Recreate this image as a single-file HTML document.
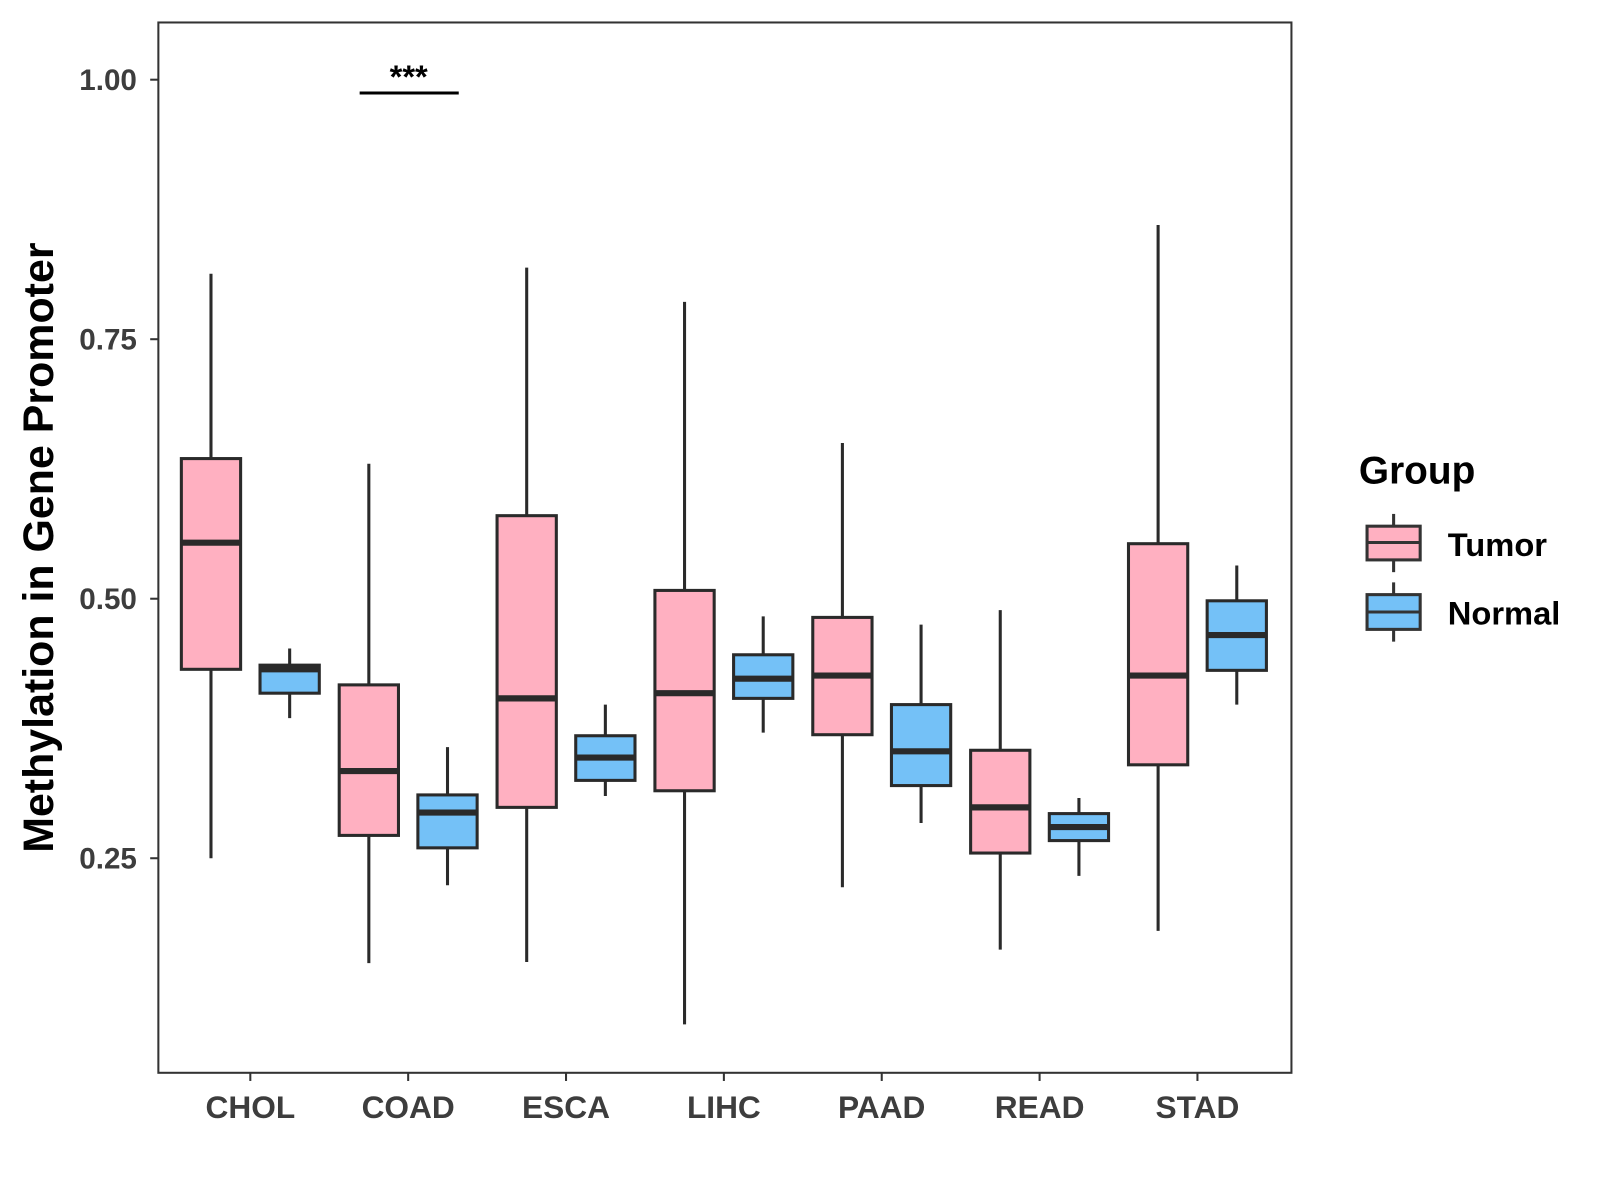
<!DOCTYPE html>
<html><head><meta charset="utf-8"><style>
body{margin:0;background:#fff;}
svg{display:block;font-family:"Liberation Sans",Arial,sans-serif;font-weight:bold;}
</style></head><body>
<svg id="chart" width="1600" height="1200" viewBox="0 0 1566 1174.5">
<rect x="0" y="0" width="1566" height="1175" fill="#fff"/>
<g id="plot"></g>
<rect x="155" y="22" width="1109" height="1028" fill="none" stroke="#333" stroke-width="2"/>
<text x="0" y="0" transform="translate(52,536) rotate(-90)" text-anchor="middle" font-size="42" fill="#000">Methylation in Gene Promoter</text>
<g>
<text x="1330" y="473" font-size="38" fill="#000">Group</text>
<g>
<line x1="1364" y1="503" x2="1364" y2="560" stroke="#333" stroke-width="3"/>
<rect x="1338" y="515" width="52" height="33" fill="#FFB0C1" stroke="#333" stroke-width="3"/>
<line x1="1338" y1="531" x2="1390" y2="531" stroke="#333" stroke-width="3"/>
<text x="1417" y="544" font-size="32" fill="#000">Tumor</text>
</g>
<g>
<line x1="1364" y1="570" x2="1364" y2="628" stroke="#333" stroke-width="3"/>
<rect x="1338" y="582" width="52" height="34" fill="#74C1F7" stroke="#333" stroke-width="3"/>
<line x1="1338" y1="599" x2="1390" y2="599" stroke="#333" stroke-width="3"/>
<text x="1417" y="611" font-size="32" fill="#000">Normal</text>
</g>
</g>
<g>
<line x1="352" y1="91" x2="449" y2="91" stroke="#000" stroke-width="3"/>
<text x="400" y="86" text-anchor="middle" font-size="32" fill="#000">***</text>
</g>
</svg>
<script>
const categories = ["CHOL","COAD","ESCA","LIHC","PAAD","READ","STAD"];
const yTicks = [0.25,0.50,0.75,1.00];
const yTickLabels = ["0.25","0.50","0.75","1.00"];
// [low, q1, median, q3, high]
const tumorStats = [
 [0.250,0.432,0.554,0.635,0.813],
 [0.149,0.272,0.334,0.417,0.630],
 [0.150,0.299,0.404,0.580,0.819],
 [0.090,0.315,0.409,0.508,0.786],
 [0.222,0.369,0.426,0.482,0.650],
 [0.162,0.255,0.299,0.354,0.489],
 [0.180,0.340,0.426,0.553,0.860]
];
const normalStats = [
 [0.385,0.409,0.432,0.436,0.452],
 [0.224,0.260,0.294,0.311,0.357],
 [0.310,0.325,0.347,0.368,0.398],
 [0.371,0.404,0.423,0.446,0.483],
 [0.284,0.320,0.353,0.398,0.475],
 [0.233,0.267,0.280,0.293,0.308],
 [0.398,0.431,0.465,0.498,0.532]
];
const NS="http://www.w3.org/2000/svg";
const svg=document.getElementById('chart');
const plot=document.getElementById('plot');
function yScale(v){return 78+(1-v)*1016;}
function xScale(i){return 245+i*154.5;}
function mk(tag,attrs,parent){const e=document.createElementNS(NS,tag);for(const k in attrs)e.setAttribute(k,attrs[k]);(parent||svg).appendChild(e);return e;}
yTicks.forEach((t,i)=>{
 const y=yScale(t);
 const tk=mk('line',{x1:147,x2:155,y1:y,y2:y,stroke:'#333','stroke-width':2});
 
 
 const lb=mk('text',{x:134,y:y+10,'text-anchor':'end','font-size':29,fill:'#3d3d3d'});
 lb.textContent=yTickLabels[i];
 
 
});
categories.forEach((c,i)=>{
 const x=xScale(i);
 const tk=mk('line',{x1:x,x2:x,y1:1050,y2:1058,stroke:'#333','stroke-width':2});
 
 
 const lb=mk('text',{x:x,y:1094,'text-anchor':'middle','font-size':31,fill:'#3d3d3d'});
 lb.textContent=c;
 
 
});
function box(cx,s,fill,name){
 const g=mk('g',{},plot);
 
 
 const w=58;
 mk('line',{x1:cx,x2:cx,y1:yScale(s[4]),y2:yScale(s[0]),stroke:'#2a2a2a','stroke-width':3},g);
 mk('rect',{x:cx-w/2,y:yScale(s[3]),width:w,height:yScale(s[1])-yScale(s[3]),fill:fill,stroke:'#2a2a2a','stroke-width':3},g);
 mk('line',{x1:cx-w/2,x2:cx+w/2,y1:yScale(s[2]),y2:yScale(s[2]),stroke:'#2a2a2a','stroke-width':6},g);
}
categories.forEach((c,i)=>{
 box(xScale(i)-38.5,tumorStats[i],'#FFB0C1','box-tumor-'+c.toLowerCase());
 box(xScale(i)+38.5,normalStats[i],'#74C1F7','box-normal-'+c.toLowerCase());
});
</script>
</body></html>
